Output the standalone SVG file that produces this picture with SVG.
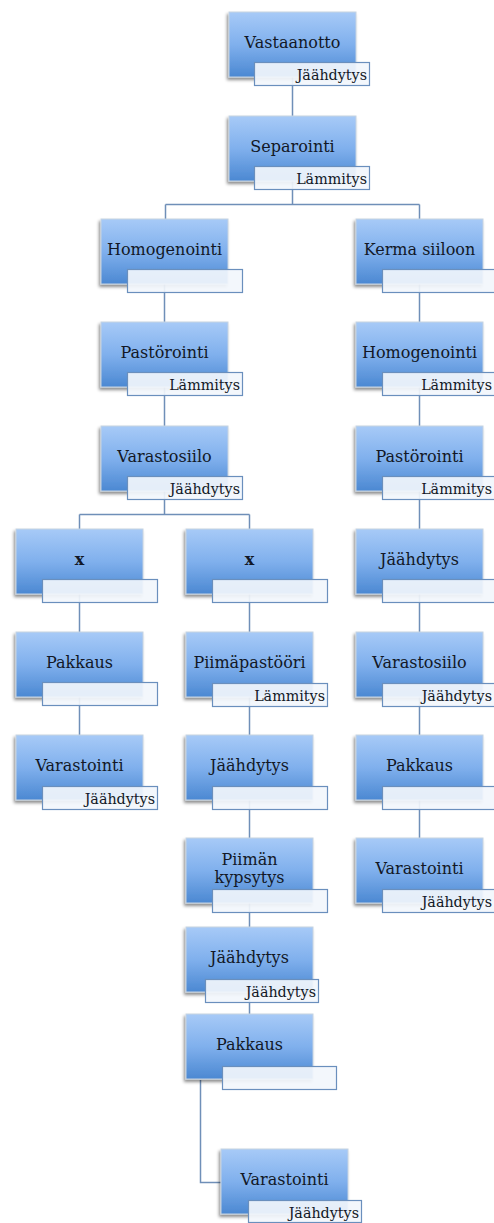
<svg xmlns="http://www.w3.org/2000/svg" width="494" height="1223" viewBox="0 0 494 1223">
<defs>
<linearGradient id="g" x1="0" y1="0" x2="0" y2="1">
<stop offset="0" stop-color="#a7caf7"/>
<stop offset="0.5" stop-color="#80b0ed"/>
<stop offset="1" stop-color="#4b88d2"/>
</linearGradient>
<filter id="sh" x="-20%" y="-20%" width="140%" height="150%">
<feDropShadow dx="-1.5" dy="2.5" stdDeviation="1.5" flood-color="#000" flood-opacity="0.45"/>
</filter>
<style>
.b{fill:url(#g);stroke:#c6d3e2;stroke-width:1;filter:url(#sh)}
.l{fill:#f2f6fc;fill-opacity:0.92;stroke:#6a8fbd;stroke-width:1.2}
.t{font-family:"DejaVu Serif","Liberation Serif",serif;font-size:16px;fill:#121826;text-anchor:middle}
.s{font-family:"DejaVu Serif","Liberation Serif",serif;font-size:14.3px;fill:#121826;text-anchor:end}
.c{fill:none;stroke:#6f8fb8;stroke-width:1.5}
</style>
</defs>
<rect width="494" height="1223" fill="#fff"/>
<g id="connectors" class="c">
<path d="M292.5 77V116"/>
<path d="M292.5 181V204.5M165.5 204.5H419.5M165.5 204.5V219M419.5 204.5V219"/>
<path d="M164.5 284V426"/>
<path d="M164.5 491V514.5M79.5 514.5H249.5M79.5 514.5V529M249.5 514.5V529"/>
<path d="M79.5 594V735"/>
<path d="M249.5 594V1014"/>
<path d="M200.5 1080V1182.5H221"/>
<path d="M419.5 284V838"/>
</g>
<g id="n-vastaanotto"><rect class="b" x="229" y="12" width="127" height="65"/><text class="t" x="292.5" y="48">Vastaanotto</text><rect class="l" x="254.5" y="62.5" width="115" height="23"/><text class="s" x="367" y="80">Jäähdytys</text></g>
<g id="n-separointi"><rect class="b" x="229" y="116" width="127" height="65"/><text class="t" x="292.5" y="152">Separointi</text><rect class="l" x="254.5" y="166.5" width="115" height="23"/><text class="s" x="367" y="184">Lämmitys</text></g>
<g id="n-homogenointi1"><rect class="b" x="101" y="219" width="127" height="65"/><text class="t" x="164.5" y="255">Homogenointi</text><rect class="l" x="127.5" y="269.5" width="115" height="23"/></g>
<g id="n-pastorointi1"><rect class="b" x="101" y="322" width="127" height="65"/><text class="t" x="164.5" y="358">Pastörointi</text><rect class="l" x="127.5" y="372.5" width="115" height="23"/><text class="s" x="240" y="390">Lämmitys</text></g>
<g id="n-varastosiilo1"><rect class="b" x="101" y="426" width="127" height="65"/><text class="t" x="164.5" y="462">Varastosiilo</text><rect class="l" x="127.5" y="476.5" width="115" height="23"/><text class="s" x="240" y="494">Jäähdytys</text></g>
<g id="n-x1"><rect class="b" x="16" y="529" width="127" height="65"/><text class="t" x="79.5" y="565" font-weight="bold">x</text><rect class="l" x="42.5" y="579.5" width="115" height="23"/></g>
<g id="n-pakkaus1"><rect class="b" x="16" y="632" width="127" height="65"/><text class="t" x="79.5" y="668">Pakkaus</text><rect class="l" x="42.5" y="682.5" width="115" height="23"/></g>
<g id="n-varastointi1"><rect class="b" x="16" y="735" width="127" height="65"/><text class="t" x="79.5" y="771">Varastointi</text><rect class="l" x="42.5" y="786.5" width="115" height="23"/><text class="s" x="155" y="804">Jäähdytys</text></g>
<g id="n-x2"><rect class="b" x="186" y="529" width="127" height="65"/><text class="t" x="249.5" y="565" font-weight="bold">x</text><rect class="l" x="212.5" y="579.5" width="115" height="23"/></g>
<g id="n-piimapastoori"><rect class="b" x="186" y="632" width="127" height="65"/><text class="t" x="249.5" y="668">Piimäpastööri</text><rect class="l" x="212.5" y="683.5" width="115" height="23"/><text class="s" x="325" y="701">Lämmitys</text></g>
<g id="n-jaahdytys2"><rect class="b" x="186" y="735" width="127" height="65"/><text class="t" x="249.5" y="771">Jäähdytys</text><rect class="l" x="212.5" y="786.5" width="115" height="23"/></g>
<g id="n-piiman-kypsytys"><rect class="b" x="186" y="838" width="127" height="65"/><text class="t" x="249.5" y="865">Piimän</text><text class="t" x="249.5" y="883">kypsytys</text><rect class="l" x="212.5" y="889.5" width="115" height="23"/></g>
<g id="n-jaahdytys3"><rect class="b" x="186" y="927" width="127" height="65"/><text class="t" x="249.5" y="963">Jäähdytys</text><rect class="l" x="205.5" y="979.5" width="113" height="23"/><text class="s" x="316" y="997">Jäähdytys</text></g>
<g id="n-pakkaus2"><rect class="b" x="186" y="1014" width="127" height="65"/><text class="t" x="249.5" y="1050">Pakkaus</text><rect class="l" x="222.5" y="1066.5" width="114" height="23"/></g>
<g id="n-varastointi2"><rect class="b" x="221" y="1149" width="127" height="65"/><text class="t" x="284.5" y="1185">Varastointi</text><rect class="l" x="248.5" y="1200.5" width="113" height="22"/><text class="s" x="359" y="1218">Jäähdytys</text></g>
<g id="n-kerma-siiloon"><rect class="b" x="356" y="219" width="127" height="65"/><text class="t" x="419.5" y="255">Kerma siiloon</text><rect class="l" x="382.5" y="269.5" width="115" height="23"/></g>
<g id="n-homogenointi2"><rect class="b" x="356" y="322" width="127" height="65"/><text class="t" x="419.5" y="358">Homogenointi</text><rect class="l" x="382.5" y="372.5" width="115" height="23"/><text class="s" x="492" y="390">Lämmitys</text></g>
<g id="n-pastorointi2"><rect class="b" x="356" y="426" width="127" height="65"/><text class="t" x="419.5" y="462">Pastörointi</text><rect class="l" x="382.5" y="476.5" width="115" height="23"/><text class="s" x="492" y="494">Lämmitys</text></g>
<g id="n-jaahdytys4"><rect class="b" x="356" y="529" width="127" height="65"/><text class="t" x="419.5" y="565">Jäähdytys</text><rect class="l" x="382.5" y="579.5" width="115" height="23"/></g>
<g id="n-varastosiilo2"><rect class="b" x="356" y="632" width="127" height="65"/><text class="t" x="419.5" y="668">Varastosiilo</text><rect class="l" x="382.5" y="683.5" width="115" height="23"/><text class="s" x="492" y="701">Jäähdytys</text></g>
<g id="n-pakkaus3"><rect class="b" x="356" y="735" width="127" height="65"/><text class="t" x="419.5" y="771">Pakkaus</text><rect class="l" x="382.5" y="786.5" width="115" height="23"/></g>
<g id="n-varastointi3"><rect class="b" x="356" y="838" width="127" height="65"/><text class="t" x="419.5" y="874">Varastointi</text><rect class="l" x="382.5" y="889.5" width="115" height="23"/><text class="s" x="492" y="907">Jäähdytys</text></g>
</svg>
